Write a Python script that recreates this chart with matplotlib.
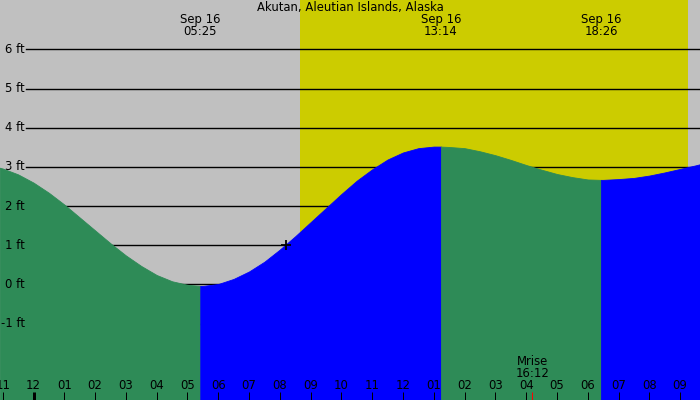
import matplotlib
matplotlib.use("Agg")
import matplotlib.pyplot as plt
import numpy as np

plt.rcParams["axes.unicode_minus"] = False

# tide heights (ft), hours since midnight Sep 16
tide_hours = [-1.1, -1.0, -0.5, 0.0, 0.5, 1.0, 1.5, 2.0, 2.5, 3.0, 3.5, 4.0, 4.5, 5.0,
              5.417, 5.5, 6.0, 6.5, 7.0, 7.5, 8.0, 8.5, 9.0, 9.5, 10.0, 10.5, 11.0, 11.5,
              12.0, 12.5, 13.0, 13.233, 13.5, 14.0, 14.5, 15.0, 15.5, 16.0, 16.5, 17.0,
              17.5, 18.0, 18.433, 18.5, 19.0, 19.5, 20.0, 20.5, 21.0, 21.5, 21.7]
tide_ft = [2.98, 2.96, 2.81, 2.60, 2.34, 2.04, 1.71, 1.38, 1.05, 0.74, 0.47, 0.24, 0.08, -0.01,
           -0.04, -0.04, 0.01, 0.14, 0.33, 0.58, 0.89, 1.23, 1.59, 1.95, 2.31, 2.65, 2.94, 3.19,
           3.37, 3.48, 3.52, 3.52, 3.51, 3.48, 3.40, 3.30, 3.18, 3.05, 2.93, 2.82,
           2.74, 2.68, 2.67, 2.67, 2.69, 2.72, 2.78, 2.86, 2.95, 3.04, 3.08]

# high / low tides
extreme_hours = [5.417, 13.233, 18.433]
extreme_dates = ["Sep 16", "Sep 16", "Sep 16"]
extreme_times = ["05:25", "13:14", "18:26"]

sunrise_hour = 8.655
sunset_hour = 21.26
moonrise_hour = 16.2
moonrise_label = "16:12"
now_hour, now_ft = 8.20, 1.0

ft_levels = [6, 5, 4, 3, 2, 1, 0, -1]
hour_ticks = list(range(-1, 22))

TITLE = "Akutan, Aleutian Islands, Alaska"

NIGHT = "#c0c0c0"
DAY = "#cccc00"
FALL = "#2e8b57"
RISE = "#0000ff"

XMIN, XMAX = -1.088, 21.646
YMIN, YMAX = -2.953, 7.264
FS = 8.4

fig = plt.figure(figsize=(7, 4), dpi=100)
ax = fig.add_axes([0, 0, 1, 1])
ax.set_xlim(XMIN, XMAX)
ax.set_ylim(YMIN, YMAX)
ax.set_facecolor(NIGHT)
ax.set_xticks([])
ax.set_yticks([])
for s in ax.spines.values():
    s.set_visible(False)

ax.axvspan(sunrise_hour, sunset_hour, color=DAY, lw=0, zorder=0)

for lv in ft_levels:
    ax.axhline(lv, xmin=26 / 700, xmax=1, color="black", lw=1.0, zorder=1)
    ax.text(24.5 / 700, lv, f"{lv} ft", transform=ax.get_yaxis_transform(),
            ha="right", va="center", fontsize=FS, color="black", zorder=5)

t = np.array(tide_hours)
h = np.array(tide_ft)
bounds = [t[0]] + extreme_hours + [t[-1]]
for a, b in zip(bounds[:-1], bounds[1:]):
    m = (t >= a) & (t <= b)
    col = RISE if h[m][-1] > h[m][0] else FALL
    ax.fill_between(t[m], h[m], YMIN, facecolor=col, edgecolor=col, lw=0.6, zorder=2)

ax.plot([now_hour], [now_ft], marker="+", color="black", ms=7, mew=1.3, zorder=4)

xt = ax.get_xaxis_transform()
for hr in hour_ticks:
    lbl = f"{(hr % 12) or 12:02d}"
    lw = 3 * 0.72 if hr % 24 == 0 else 1 * 0.72
    ax.plot([hr, hr], [0, 0.02], transform=xt, color="black", lw=lw,
            solid_capstyle="butt", zorder=5)
    ax.text(hr, 1 - 385.7 / 400, lbl, transform=xt, ha="center", va="center",
            fontsize=FS, color="black", zorder=5)

ax.plot([moonrise_hour, moonrise_hour], [0, 0.02], transform=xt, color="red",
        lw=0.72, solid_capstyle="butt", zorder=5)
ax.text(moonrise_hour, 1 - 361.7 / 400, "Mrise", transform=xt, ha="center",
        va="center", fontsize=FS, zorder=5)
ax.text(moonrise_hour, 1 - 373.3 / 400, moonrise_label, transform=xt, ha="center",
        va="center", fontsize=FS, zorder=5)

for hr, d, tm in zip(extreme_hours, extreme_dates, extreme_times):
    ax.text(hr, 1 - 19.5 / 400, d, transform=xt, ha="center", va="center",
            fontsize=FS, zorder=5)
    ax.text(hr, 1 - 31.7 / 400, tm, transform=xt, ha="center", va="center",
            fontsize=FS, zorder=5)

ax.text(0.5, 1 - 7 / 400, TITLE, transform=ax.transAxes, ha="center", va="center",
        fontsize=FS, zorder=5)

fig.savefig("out.png", dpi=100)
